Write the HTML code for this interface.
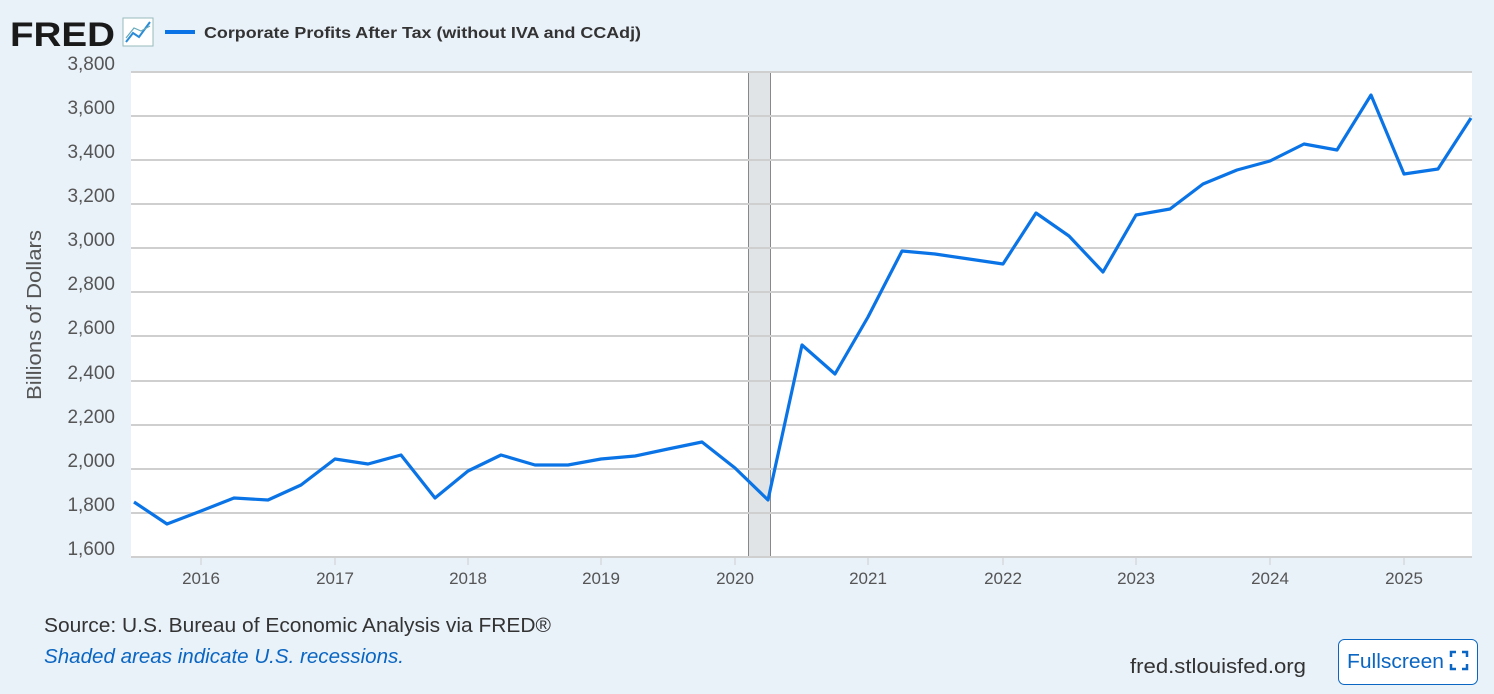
<!DOCTYPE html>
<html><head><meta charset="utf-8"><style>
html,body{margin:0;padding:0;width:1494px;height:694px;background:#e9f1f9;overflow:hidden;font-family:"Liberation Sans",sans-serif;}
</style></head><body>
<svg width="1494" height="694" xmlns="http://www.w3.org/2000/svg" style="position:absolute;left:0;top:0">
<rect x="0" y="0" width="1494" height="694" fill="#e9f1f9"/>
<text x="10" y="46" font-family="Liberation Sans" font-weight="bold" font-size="34" fill="#1a1a1a" textLength="105" lengthAdjust="spacingAndGlyphs">FRED</text>
<rect x="123" y="18" width="30" height="28" fill="#fff" stroke="#9bb" stroke-width="1"/>
<polyline points="126,42 133,33 139,37 150,22" fill="none" stroke="#2a8bd6" stroke-width="2"/>
<polyline points="126,38 134,28 141,31 150,26" fill="none" stroke="#6ab" stroke-width="1.2"/>
<line x1="165" y1="32" x2="195" y2="32" stroke="#0a74e6" stroke-width="4"/>
<text x="204" y="38" font-size="16" font-weight="bold" fill="#333" textLength="437" lengthAdjust="spacingAndGlyphs">Corporate Profits After Tax (without IVA and CCAdj)</text>
<rect x="131" y="72" width="1341" height="485" fill="#fff"/>
<rect x="748" y="72" width="22" height="485" fill="#e1e4e7"/>
<line x1="748.5" y1="72" x2="748.5" y2="557" stroke="#888" stroke-width="1"/>
<line x1="770.5" y1="72" x2="770.5" y2="557" stroke="#888" stroke-width="1"/>
<g stroke="#cfcfcf" stroke-width="2">
<line x1="131" y1="72" x2="1472" y2="72"/><line x1="131" y1="116" x2="1472" y2="116"/><line x1="131" y1="160" x2="1472" y2="160"/><line x1="131" y1="204" x2="1472" y2="204"/><line x1="131" y1="248" x2="1472" y2="248"/><line x1="131" y1="292" x2="1472" y2="292"/><line x1="131" y1="336" x2="1472" y2="336"/><line x1="131" y1="381" x2="1472" y2="381"/><line x1="131" y1="425" x2="1472" y2="425"/><line x1="131" y1="469" x2="1472" y2="469"/><line x1="131" y1="513" x2="1472" y2="513"/><line x1="131" y1="557" x2="1472" y2="557"/>
</g>
<g font-size="19" fill="#555" text-anchor="end">
<text x="115" y="70">3,800</text><text x="115" y="114">3,600</text><text x="115" y="158">3,400</text><text x="115" y="202">3,200</text><text x="115" y="246">3,000</text><text x="115" y="290">2,800</text><text x="115" y="334">2,600</text><text x="115" y="379">2,400</text><text x="115" y="423">2,200</text><text x="115" y="467">2,000</text><text x="115" y="511">1,800</text><text x="115" y="555">1,600</text>
</g>
<g font-size="17" fill="#555" text-anchor="middle">
<text x="201" y="584">2016</text><text x="335" y="584">2017</text><text x="468" y="584">2018</text><text x="601" y="584">2019</text><text x="735" y="584">2020</text><text x="868" y="584">2021</text><text x="1003" y="584">2022</text><text x="1136" y="584">2023</text><text x="1270" y="584">2024</text><text x="1404" y="584">2025</text>
</g>
<g stroke="#cfcfcf" stroke-width="1">
<line x1="201" y1="557" x2="201" y2="565"/><line x1="335" y1="557" x2="335" y2="565"/><line x1="468" y1="557" x2="468" y2="565"/><line x1="601" y1="557" x2="601" y2="565"/><line x1="735" y1="557" x2="735" y2="565"/><line x1="868" y1="557" x2="868" y2="565"/><line x1="1003" y1="557" x2="1003" y2="565"/><line x1="1136" y1="557" x2="1136" y2="565"/><line x1="1270" y1="557" x2="1270" y2="565"/><line x1="1404" y1="557" x2="1404" y2="565"/>
</g>
<text transform="translate(41,315) rotate(-90)" font-size="20" fill="#555" text-anchor="middle" textLength="170" lengthAdjust="spacingAndGlyphs">Billions of Dollars</text>
<polyline fill="none" stroke="#0a74e6" stroke-width="3.2" stroke-linejoin="round" points="134,502 167,524 201,511 234,498 268,500 301,485 335,459 368,464 401,455 435,498 468,471 501,455 535,465 568,465 601,459 635,456 668,449 702,442 735,468 768,500 802,345 835,374 868,317 902,251 935,254 969,259 1003,264 1036,213 1069,236 1103,272 1136,215 1170,209 1203,184 1237,170 1270,161 1304,144 1337,150 1371,95 1404,174 1438,169 1471,118"/>
<text x="44" y="632" font-size="20" fill="#333" textLength="507" lengthAdjust="spacingAndGlyphs">Source: U.S. Bureau of Economic Analysis via FRED®</text>
<text x="44" y="663" font-size="20" fill="#0a66c2" font-style="italic" textLength="360" lengthAdjust="spacingAndGlyphs">Shaded areas indicate U.S. recessions.</text>
<text x="1130" y="673" font-size="20" fill="#333" textLength="176" lengthAdjust="spacingAndGlyphs">fred.stlouisfed.org</text>
<rect x="1338.5" y="639.5" width="139" height="45" rx="6" fill="#fff" stroke="#0a66c2" stroke-width="1"/>
<text x="1347" y="668" font-size="20" fill="#0a66c2" textLength="97" lengthAdjust="spacingAndGlyphs">Fullscreen</text>
<path d="M1451 657v-5h5 M1462 652h5v5 M1467 664v5h-5 M1456 669h-5v-5" fill="none" stroke="#0a66c2" stroke-width="2.5"/>
</svg>
</body></html>
